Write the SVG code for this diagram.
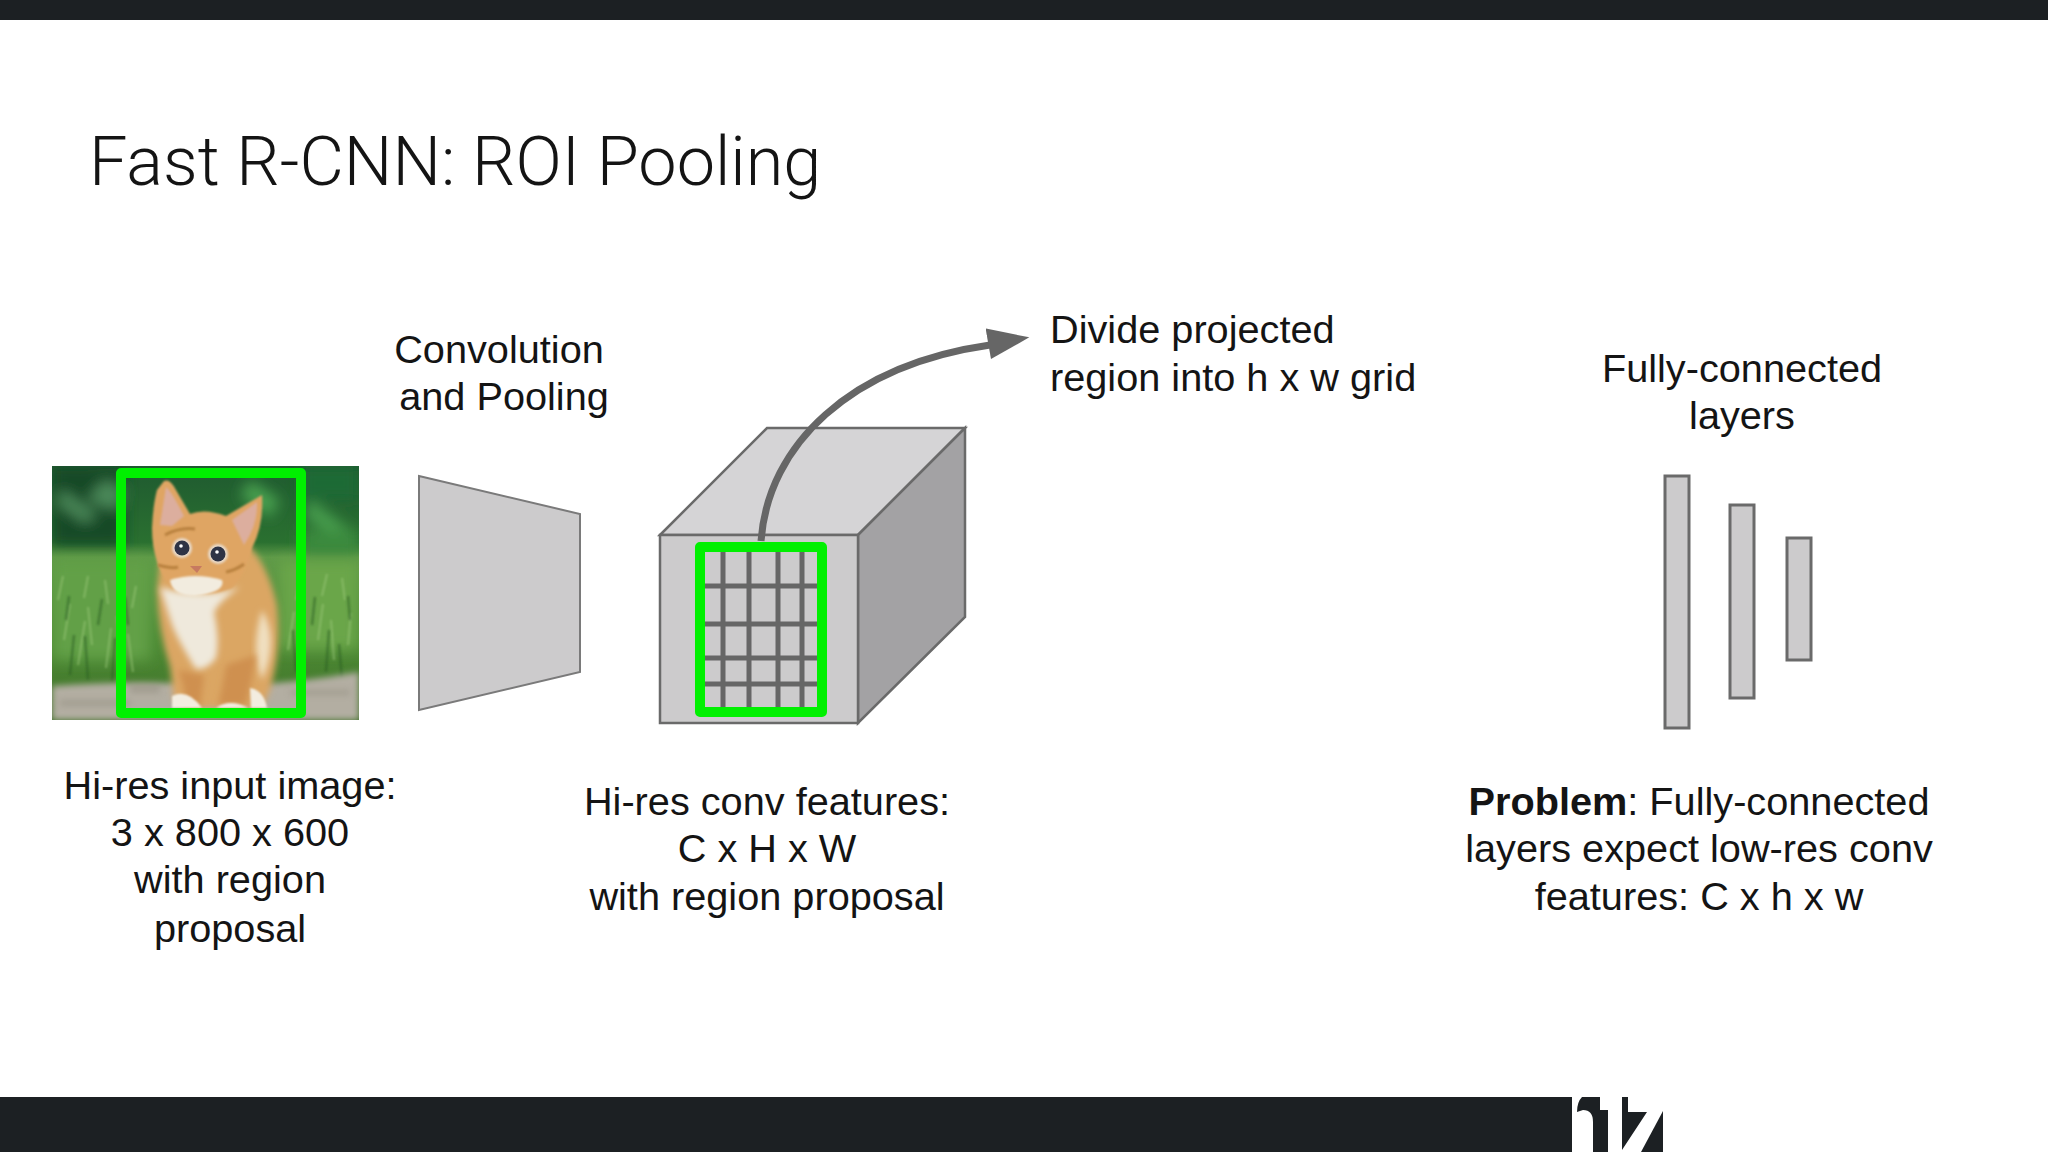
<svg xmlns="http://www.w3.org/2000/svg" width="2048" height="1152" viewBox="0 0 2048 1152">
<style>
.t{font-family:"Liberation Sans",Arial,sans-serif;font-size:39.7px;fill:#141414}
.m{text-anchor:middle}
.box{fill:#cccbcc;stroke:#6a6a6a;stroke-width:3}
.grid{stroke:#666;stroke-width:5;fill:none}
.roi{fill:none;stroke:#00f000;stroke-width:10;stroke-linejoin:round}
.bar{fill:#1c2023}
</style>
<defs>
<clipPath id="photo"><rect x="52" y="466" width="307" height="254"/></clipPath>
<filter id="b8" x="-30%" y="-30%" width="160%" height="160%"><feGaussianBlur stdDeviation="7"/></filter>
<filter id="b3" x="-30%" y="-30%" width="160%" height="160%"><feGaussianBlur stdDeviation="3"/></filter>
<filter id="b1" x="-30%" y="-30%" width="160%" height="160%"><feGaussianBlur stdDeviation="1"/></filter>
<linearGradient id="bg" x1="0" y1="0" x2="0" y2="1"><stop offset="0" stop-color="#1f5a30"/><stop offset="0.3" stop-color="#2a7030"/><stop offset="0.36" stop-color="#5f9a48"/><stop offset="0.7" stop-color="#4c8a34"/><stop offset="1" stop-color="#3f7028"/></linearGradient>
<marker id="head" markerUnits="userSpaceOnUse" markerWidth="44" markerHeight="34" refX="2" refY="17" orient="auto"><path d="M0 0L42 15L1 31Z" fill="#666"/></marker>
</defs>
<g id="chrome">
<rect class="bar" x="0" y="0" width="2048" height="20"/>
<rect class="bar" x="0" y="1097" width="1572" height="55"/>
<path class="bar" d="M1582 1097H1600V1110H1608V1152H1593V1122Q1593 1110 1583 1110L1577 1112Q1577 1102 1582 1097Z"/>
<path class="bar" d="M1622 1097H1628V1112H1647L1622 1150Z"/>
<path class="bar" d="M1663 1111V1152H1641Z"/>
</g>
<text id="title" x="89" y="185" font-family="Roboto,sans-serif" font-weight="300" font-size="68.4" fill="#141414">Fast R-CNN: ROI Pooling</text>
<g id="input-image">
<g clip-path="url(#photo)">
<rect x="52" y="466" width="307" height="254" fill="url(#bg)"/>
<g filter="url(#b8)">
<path d="M52 466H125V545H52Z" fill="#174a28"/>
<path d="M105 480l20 10-8 20-30-10zM62 490l35 25-12 8-28-20z" fill="#4c8a5a"/>
<path d="M300 466H359V500H300Z" fill="#1f6a35"/>
<path d="M250 480l30 20-10 18-30-22zM310 500l40 30-12 8-34-22z" fill="#48a050"/>
<path d="M52 560H150V660H52Z" fill="#62a046"/>
<path d="M280 560H359V650H280Z" fill="#6aa648"/>
<path d="M300 530H359V555H300Z" fill="#3a8a3c"/>
</g>
<g stroke="#9cc97a" stroke-width="2" fill="none" opacity="0.55" filter="url(#b1)">
<path d="M64 640l6-36M78 665l7-44M92 645l-4-38M106 668l5-40M120 650l-3-34M133 672l-5-38M58 600l5-24M84 598l4-22M108 604l-3-24M132 608l4-22M288 650l6-38M303 665l-4-44M318 640l5-36M334 660l-3-40M348 645l3-32M296 600l4-22M322 596l5-22M345 600l-3-22"/>
</g>
<g stroke="#2a5f24" stroke-width="2.5" fill="none" opacity="0.55" filter="url(#b1)">
<path d="M70 675l4-40M88 680l-3-44M112 682l3-44M128 625l-3-28M66 620l3-24M98 625l4-26M296 672l-3-42M312 625l3-28M326 672l3-42M342 680l-3-36M350 620l-2-24"/>
</g>
<path d="M52 686Q130 680 200 684T359 672V720H52Z" fill="#b3aea2" filter="url(#b3)"/>
<g fill="#908b7e" opacity="0.5" filter="url(#b3)"><path d="M60 700h70v6H60zM290 690h60v5h-60zM130 685h30v8h-30z"/></g>
<g id="cat">
<path d="M157 590Q158 630 170 667L174 700L186 708H262L270 690Q282 650 277 605Q268 565 248 545L160 560Z" fill="#dba663" filter="url(#b3)"/>
<path d="M262 610Q280 640 262 680Q250 650 262 610Z" fill="#f0dfc0" filter="url(#b3)"/>
<path d="M178 670Q190 700 180 708H200L204 675ZM226 665Q222 690 218 705H246Q252 680 256 655Z" fill="#cf9050" filter="url(#b3)"/>
<path d="M160 587Q200 600 240 587Q220 600 214 612Q220 640 216 658Q205 672 195 668Q178 640 172 625Z" fill="#efe9dc" filter="url(#b3)"/>
<path d="M152 528Q153 505 157 490L164 481Q170 478 176 490L190 514Q205 508 226 516L262 495Q264 525 252 548Q245 575 232 588Q200 600 172 588Q152 565 152 528Z" fill="#dfa564" filter="url(#b1)"/>
<path d="M160 525L166 487Q172 492 184 516L172 526Z" fill="#dcae9e" filter="url(#b1)"/>
<path d="M232 520L257 502Q258 525 244 545Z" fill="#dcae9e" filter="url(#b1)"/>
<path d="M170 580Q195 572 222 580Q226 592 195 596Q172 596 170 580Z" fill="#f2ecdf" filter="url(#b1)"/>
<path d="M158 565q15 4 20 2M226 572q10-2 18-8M165 535q15 -8 30 -6" stroke="#b8803e" stroke-width="3" fill="none" filter="url(#b1)"/>
<circle cx="182" cy="548" r="10" fill="#e8d9c8" filter="url(#b1)"/><circle cx="218" cy="554" r="10" fill="#e8d9c8" filter="url(#b1)"/>
<circle cx="182" cy="548" r="7.5" fill="#2e3345"/><circle cx="218" cy="554" r="7.5" fill="#2e3345"/>
<circle cx="181" cy="546" r="1.8" fill="#fff"/><circle cx="217" cy="552" r="1.8" fill="#fff"/>
<path d="M190 566h12l-5 7z" fill="#c77a60"/>
<path d="M172 696q16-8 30 12h-30zM216 708q14-10 32 0zM250 688q14 2 17 20h-16z" fill="#f3ede0" filter="url(#b1)"/>
</g>
</g>
<rect class="roi" x="121" y="473" width="180" height="240"/>
</g>
<g id="conv-pooling">
<path d="M419 476L580 514V672L419 710Z" fill="#cccbcc" stroke="#7a7a7a" stroke-width="2"/>
</g>
<g id="feature-volume">
<path d="M660 535L767 428H965L858 535Z" fill="#d5d4d6" stroke="#6a6a6a" stroke-width="2.5"/>
<path d="M858 535L965 428V617L858 723Z" fill="#a3a2a4" stroke="#6a6a6a" stroke-width="2.5"/>
<rect x="660" y="535" width="198" height="188" fill="#cccbcc" stroke="#6a6a6a" stroke-width="2.5"/>
<path class="grid" d="M723 547V712M749 547V712M778 547V712M802 547V712M700 586H822M700 624H822M700 658H822M700 684H822"/>
<rect class="roi" x="700" y="547" width="122" height="165"/>
</g>
<g id="connectors">
<path d="M761 541C768 445 850 365 990 345" fill="none" stroke="#666" stroke-width="7" marker-end="url(#head)"/>
</g>
<g id="fc-layers">
<rect class="box" x="1665" y="476" width="24" height="252"/>
<rect class="box" x="1730" y="505" width="24" height="193"/>
<rect class="box" x="1787" y="538" width="24" height="122"/>
</g>
<g id="labels">
<text class="t m" x="499" y="363">Convolution</text>
<text class="t m" x="504" y="410">and Pooling</text>
<text class="t" x="1050" y="343">Divide projected</text>
<text class="t" x="1050" y="391">region into h x w grid</text>
<text class="t m" x="1742" y="382">Fully-connected</text>
<text class="t m" x="1742" y="429">layers</text>
<text class="t m" x="230" y="799">Hi-res input image:</text>
<text class="t m" x="230" y="846">3 x 800 x 600</text>
<text class="t m" x="230" y="893">with region</text>
<text class="t m" x="230" y="942">proposal</text>
<text class="t m" x="767" y="815">Hi-res conv features:</text>
<text class="t m" x="767" y="862">C x H x W</text>
<text class="t m" x="767" y="910">with region proposal</text>
<text class="t m" x="1699" y="815"><tspan font-weight="700">Problem</tspan>: Fully-connected</text>
<text class="t m" x="1699" y="862">layers expect low-res conv</text>
<text class="t m" x="1699" y="910">features: C x h x w</text>
</g>
</svg>
